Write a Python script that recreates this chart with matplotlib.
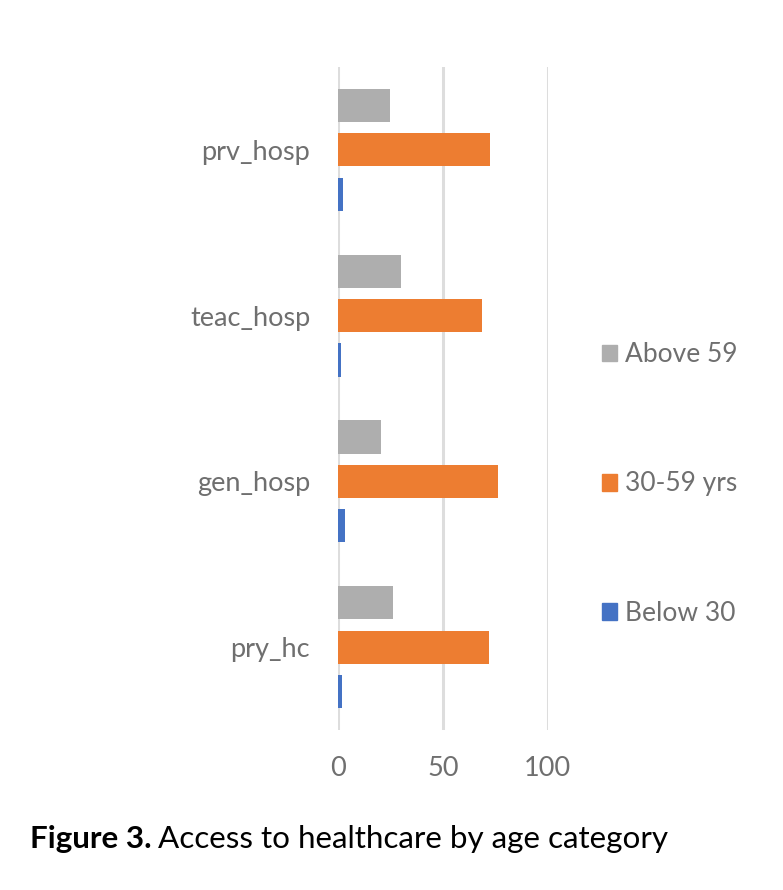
import numpy as np
import matplotlib.pyplot as plt
from matplotlib.patches import Patch

categories = ['pry_hc', 'gen_hosp', 'teac_hosp', 'prv_hosp']
below_30 = [1.9, 3.3, 1.3, 2.5]
age_30_59 = [71.9, 76.2, 68.9, 72.7]
above_59 = [26.3, 20.6, 30.1, 24.9]
series_names = ['Below 30', '30-59 yrs', 'Above 59']
series_colors = ['#4472C4', '#ED7D31', '#AEAEAE']
x_ticks = [0, 50, 100]

TEXT_GREY = '#6F6F6F'
plt.rcParams['font.family'] = ['Lato', 'DejaVu Sans']

fig = plt.figure(figsize=(7.83, 8.90), dpi=100)
ax = fig.add_axes([0.4317, 0.1798, 0.2676, 0.7449])

y = np.arange(len(categories))
h = 0.2
step = 0.268
for i, vals in enumerate([below_30, age_30_59, above_59]):
    ax.barh(y + (i - 1) * step, vals, height=h, color=series_colors[i],
            label=series_names[i], zorder=3)

ax.set_xlim(0, 100)
ax.set_ylim(-0.5, len(categories) - 0.5)
ax.set_xticks(x_ticks)
ax.set_yticks(y)
ax.set_yticklabels(categories)
ax.grid(axis='x', color='#DDDDDD', linewidth=2.2, zorder=0)
for s in ax.spines.values():
    s.set_visible(False)
ax.tick_params(axis='both', length=0, labelsize=19.5, colors=TEXT_GREY)
ax.tick_params(axis='x', pad=19)
ax.tick_params(axis='y', pad=20)

handles = [Patch(color=c, label=n) for c, n in zip(series_colors, series_names)][::-1]
fig.legend(handles=handles, loc='center left', bbox_to_anchor=(0.738, 0.4562),
           frameon=False, fontsize=19, labelcolor=TEXT_GREY,
           handlelength=0.6, handleheight=0.6, handletextpad=0.3,
           labelspacing=3.95)

# caption: bold lead-in, then the rest placed right after it
lead = fig.text(0.038, 0.047, 'Figure 3.', fontsize=22.6, fontweight='bold', color='black')
fig.canvas.draw()
bb = lead.get_window_extent().transformed(fig.transFigure.inverted())
fig.text(bb.x1 + 0.008, 0.047, 'Access to healthcare by age category',
         fontsize=22.6, color='black')

fig.savefig('out.png', dpi=100)
